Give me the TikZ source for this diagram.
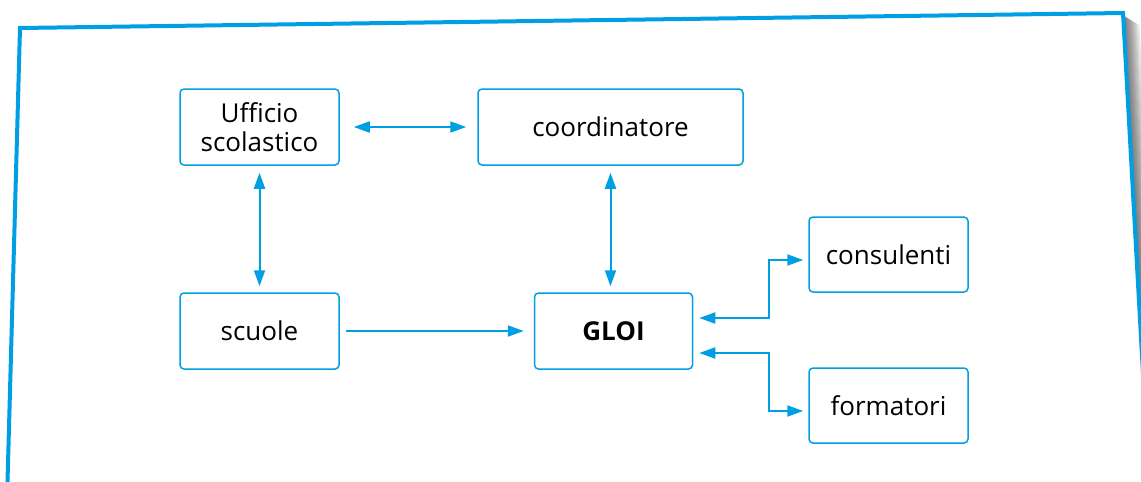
\documentclass[tikz,border=0pt]{standalone}
\usepackage{fontspec}
\setmainfont{Open Sans}
\usetikzlibrary{arrows.meta,calc}
\definecolor{cblue}{HTML}{009FE3}
\tikzset{
  box/.style={draw=cblue, line width=1.5pt, rounded corners=4pt, fill=white,
    minimum width=159pt, minimum height=76pt, align=center, inner sep=2pt,
    font=\fontsize{26}{29}\selectfont},
  arr/.style={cblue, line width=2pt, {Triangle[length=16pt,width=11pt]}-{Triangle[length=16pt,width=11pt]}},
  arrone/.style={cblue, line width=2pt, -{Triangle[length=16pt,width=11pt]}}
}
\begin{document}
\begin{tikzpicture}[x=1pt,y=-1pt]
\useasboundingbox (0,0) rectangle (1141,482);
\clip (0,0) rectangle (1141,482);
% shadow
\foreach \i in {1,...,16}{
  \fill[black,opacity=0.045] (1124,16) -- (1124+\i,16+0.6*\i) -- (1152+\i,500) -- (1152,500) -- cycle;
}
% frame
\draw[cblue, line width=4pt, fill=white, line join=miter] (7,500) -- (20,28) -- (1123,13) -- (1150,500);
% nodes
\node[box] (uff) at (259.5,127) {Ufficio\\scolastico};
\node[box, minimum width=265pt] (coord) at (610.5,127) {coordinatore};
\node[box] (sco) at (259.5,331) {scuole};
\node[box, minimum width=158pt] (gloi) at (613.5,331) {\bfseries GLOI};
\node[box, minimum height=75pt] (cons) at (888.5,254.5) {consulenti};
\node[box, minimum height=75pt] (form) at (888.5,405.5) {formatori};
% connectors
\draw[arr, shorten <=14pt, shorten >=11pt] (uff.east) -- (coord.west);
\draw[arr, shorten <=7pt, shorten >=6pt] (uff.south) -- (sco.north);
\draw[arr, shorten <=7pt, shorten >=6pt] (coord.south) -- (coord.south |- gloi.north);
\draw[arrone, shorten <=6pt, shorten >=10pt] (sco.east) -- (gloi.west);
\draw[arr, shorten <=6pt, shorten >=5pt] ([yshift=13pt]gloi.east) -- ++(76,0) |- ([yshift=-5.5pt]cons.west);
\draw[arr, shorten <=6pt, shorten >=5pt] ([yshift=-22pt]gloi.east) -- ++(76,0) |- ([yshift=-5.5pt]form.west);
\end{tikzpicture}
\end{document}
